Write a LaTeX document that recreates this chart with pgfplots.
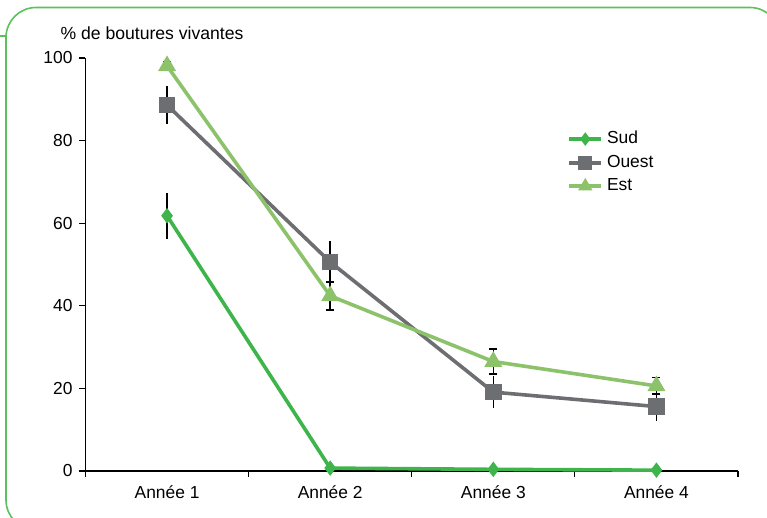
\documentclass[border=0pt]{standalone}
\usepackage{pgfplots}
\pgfplotsset{compat=1.18}
\usepackage{fontspec}
\setmainfont{Liberation Sans}
\definecolor{sud}{HTML}{3DB54A}
\definecolor{ouest}{HTML}{6D6E72}
\definecolor{est}{HTML}{8CC36A}
\definecolor{cadre}{HTML}{5CC05C}

\begin{document}
\begin{tikzpicture}
\begin{scope}[x=0.5pt,y=-0.5pt]
  \useasboundingbox (0,0) rectangle (767,518);
  \draw[cadre, line width=0.8pt, rounded corners=15pt] (6,7.5) rectangle (780,530);
  \draw[cadre, line width=0.8pt] (0,36) -- (6,36);
  \node[font=\fontsize{8.8}{10}\selectfont] at (152,33) {\% de boutures vivantes};
\end{scope}
\begin{axis}[
    at={(42.75pt,-235.5pt)}, anchor=south west,
    scale only axis,
    width=326.25pt, height=206.5pt,
    xmin=0.5, xmax=4.5,
    ymin=0, ymax=100,
    axis x line*=bottom, axis y line*=left,
    axis line style={black, line width=0.6pt},
    tick style={black, line width=0.6pt},
    tick align=outside,
    major tick length=3pt,
    xtick={0.5,1.5,2.5,3.5,4.5}, xticklabels={},
    extra x ticks={1,2,3,4},
    extra x tick labels={Année 1,Année 2,Année 3,Année 4},
    extra x tick style={major tick length=0pt, tick label style={yshift=-4pt}},
    ytick={0,20,40,60,80,100},
    tick label style={font=\fontsize{8.7}{10}\selectfont},
    /pgf/number format/assume math mode=true,
    legend style={at={(0.729,0.843)}, anchor=north west, draw=none, fill=none,
      font=\fontsize{8.7}{10}\selectfont, row sep=0.2pt},
    legend cell align=left,
    legend image code/.code={\draw[mark repeat=2, mark phase=2]
      plot coordinates {(0cm,0cm) (0.28cm,0cm) (0.56cm,0cm)};},
    error bars/error bar style={black, line width=0.7pt},
    clip=false,
]
\addplot[sud, line width=1.8pt, mark=diamond*, mark size=2.4pt,
    legend image post style={mark size=1.9pt},
    error bars/.cd, y dir=both, y explicit, error mark=none]
    coordinates {(1,61.8) +- (0,5.6) (2,0.7) +- (0,0) (3,0.4) +- (0,0) (4,0.2) +- (0,0)};
\addplot[ouest, line width=1.8pt, mark=square*, mark size=3.2pt,
    legend image post style={mark size=2.6pt},
    error bars/.cd, y dir=both, y explicit, error mark=none]
    coordinates {(1,88.6) +- (0,4.6) (2,50.6) +- (0,5.2) (3,19.1) +- (0,3.8) (4,15.6) +- (0,3.4)};
\addplot[est, line width=1.8pt, mark=triangle*, mark size=3.4pt,
    legend image post style={mark size=2.4pt},
    error bars/.cd, y dir=both, y explicit, error mark options={rotate=90, black, line width=0.7pt, mark size=2pt}]
    coordinates {(1,98.1) +- (0,1.0) (2,42.4) +- (0,3.4) (3,26.5) +- (0,3.0) (4,20.6) +- (0,2.0)};
\legend{Sud,Ouest,Est}
\end{axis}
\end{tikzpicture}
\end{document}
